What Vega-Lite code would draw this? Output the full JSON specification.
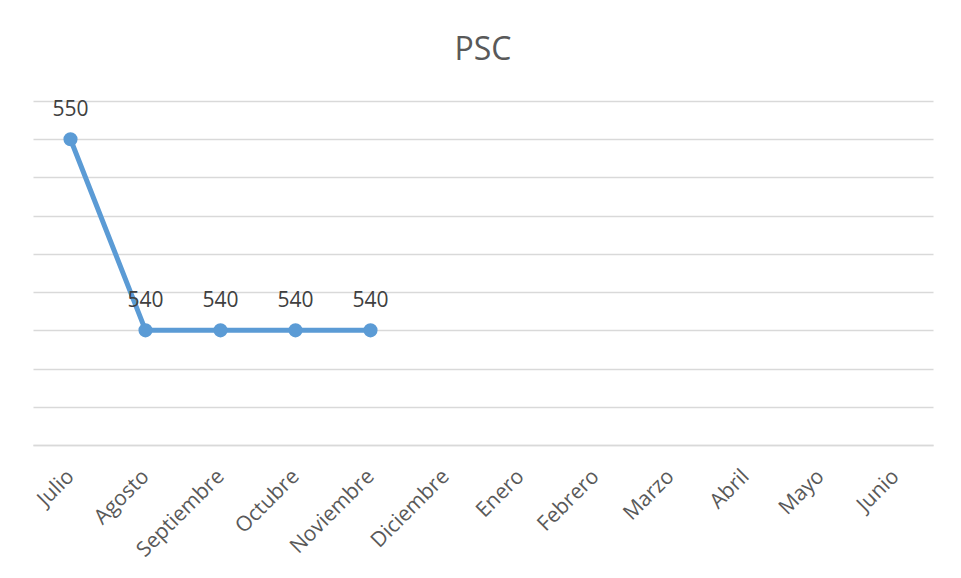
{
  "$schema": "https://vega.github.io/schema/vega-lite/v6.json",
  "width": 900,
  "height": 344,
  "autosize": "none",
  "padding": {"left": 33, "top": 101, "right": 28, "bottom": 133},
  "background": "white",
  "title": {"text": "PSC", "fontSize": 32, "font": "Open Sans", "fontWeight": "normal", "color": "#595959", "anchor": "middle", "baseline": "alphabetic", "offset": 7},
  "config": {"view": {"stroke": null}},
  "data": {"values": [
    {"mes": "Julio", "valor": 550},
    {"mes": "Agosto", "valor": 540},
    {"mes": "Septiembre", "valor": 540},
    {"mes": "Octubre", "valor": 540},
    {"mes": "Noviembre", "valor": 540}
  ]},
  "encoding": {
    "x": {"field": "mes", "type": "ordinal", "sort": null,
      "scale": {"type": "point", "padding": 0.5, "domain": ["Julio","Agosto","Septiembre","Octubre","Noviembre","Diciembre","Enero","Febrero","Marzo","Abril","Mayo","Junio"]},
      "axis": {"title": null, "labelAngle": -45, "labelAlign": "right", "labelBaseline": "middle", "labelPadding": 28, "labelFont": "Open Sans", "labelFontSize": 21, "labelColor": "#595959", "ticks": false, "domainColor": "#d9d9d9", "domainWidth": 1.5, "grid": false}},
    "y": {"field": "valor", "type": "quantitative",
      "scale": {"domain": [534, 552], "nice": false, "zero": false},
      "axis": {"title": null, "labels": false, "ticks": false, "domain": false, "grid": true, "gridColor": "#d9d9d9", "gridWidth": 1.5, "values": [534,536,538,540,542,544,546,548,550,552]}}
  },
  "layer": [
    {"mark": {"type": "line", "color": "#5b9bd5", "strokeWidth": 5}},
    {"mark": {"type": "point", "filled": true, "opacity": 1, "color": "#5b9bd5", "size": 200}},
    {"mark": {"type": "text", "font": "Open Sans", "fontSize": 21, "color": "#404040", "dy": -29, "baseline": "middle"},
      "encoding": {"text": {"field": "valor", "type": "quantitative"}}}
  ]
}
